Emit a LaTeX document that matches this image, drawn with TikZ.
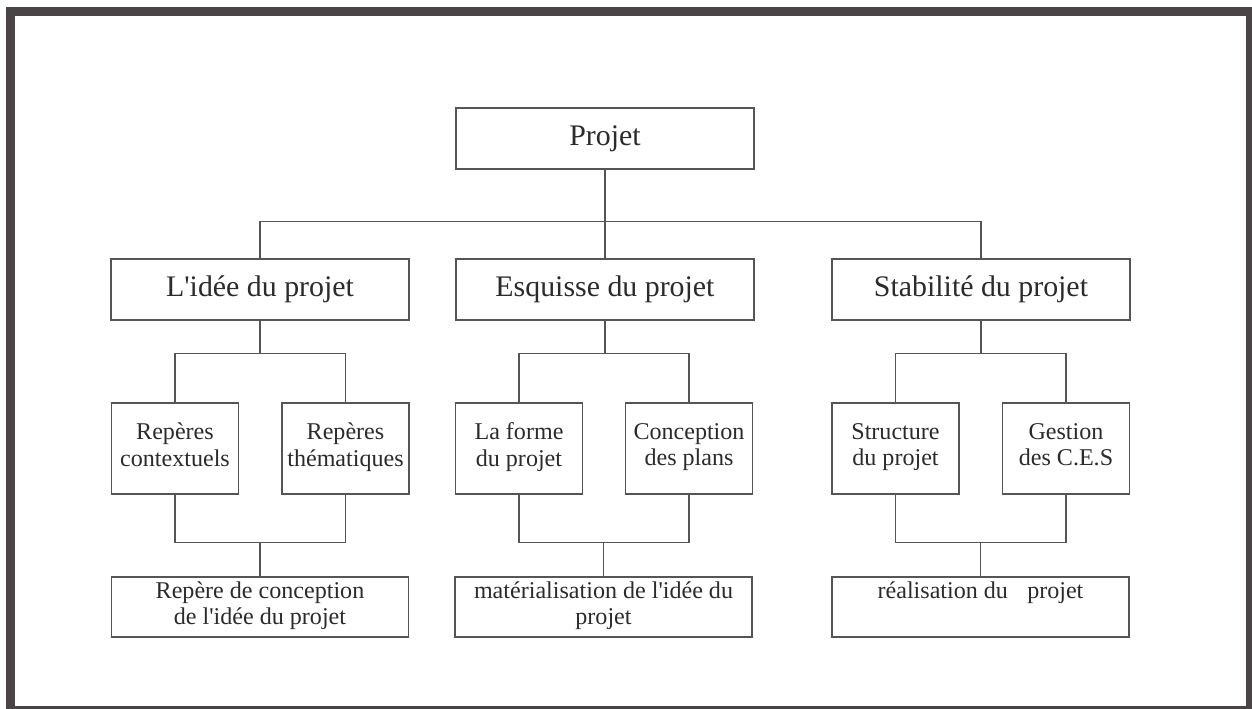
\documentclass[tikz,border=0pt]{standalone}
\usepackage{fontspec}
\setmainfont{Liberation Serif}
\usetikzlibrary{positioning}

\definecolor{framegray}{HTML}{4A4446}
\definecolor{linegray}{HTML}{555555}
\definecolor{textgray}{HTML}{2B2B2B}

\tikzset{
    box/.style={draw=linegray, line width=0.03cm, text=textgray, align=center, inner sep=0pt, execute at end node=\strut},
    bigbox/.style={box, minimum width=5.96cm, minimum height=1.22cm, font=\fontsize{17}{20}\selectfont},
    smallbox/.style={box, minimum width=2.54cm, minimum height=1.82cm, font=\fontsize{13.7}{15.1}\selectfont},
    basebox/.style={box, minimum width=5.94cm, minimum height=1.2cm, font=\fontsize{13.7}{15.1}\selectfont},
    link/.style={draw=linegray, line width=0.03cm},
}

\begin{document}
\begin{tikzpicture}[x=0.02cm, y=-0.02cm]
    \useasboundingbox (0,0) rectangle (1252,709);
    \clip (0,0) rectangle (1252,709);
    \draw[framegray, line width=0.18cm] (10.5,11.5) rectangle (1250.5,710.5);
    % top levels
    \node[bigbox] (projet) at (605,138.5) {Projet};
    \node[bigbox] (idee) at (260,289.5) {L\textquotesingle idée du projet};
    \node[bigbox] (esquisse) at (605,289.5) {Esquisse du projet};
    \node[bigbox] (stabilite) at (981,289.5) {Stabilité du projet};
    \draw[link] (projet) -- (esquisse);
    \draw[link] (idee.north) -- ++(0,-37) -| (stabilite.north);
    % third level
    \node[smallbox] (ctx) at (175,448.5) {Repères\\contextuels};
    \node[smallbox] (them) at (345.5,448.5) {Repères\\thématiques};
    \node[smallbox] (forme) at (519,448.5) {La forme\\du projet};
    \node[smallbox] (plans) at (689,448.5) {Conception\\des plans};
    \node[smallbox] (structure) at (895.5,448.5) {Structure\\du projet};
    \node[smallbox] (ces) at (1066,448.5) {Gestion\\des C.E.S};
    % bottom level
    \node[basebox] (repere) at (260,607) {Repère de conception\\de l\textquotesingle idée du projet};
    \node[basebox] (materialisation) at (603.5,607) {matérialisation de l\textquotesingle idée du\\projet};
    \node[basebox] (realisation) at (980.5,607) {réalisation du\hspace{0.8em}projet\\\mbox{}};
    % links of each group
    \draw[link] (ctx.north) -- ++(0,-49) coordinate (ideeup) -| (them.north);
    \draw[link] (idee.south) -- (idee.south |- ideeup);
    \draw[link] (ctx.south) -- ++(0,48) coordinate (ideedown) -| (them.south);
    \draw[link] (repere.north) -- (repere.north |- ideedown);
    \draw[link] (forme.north) -- ++(0,-49) coordinate (esqup) -| (plans.north);
    \draw[link] (esquisse.south) -- (esquisse.south |- esqup);
    \draw[link] (forme.south) -- ++(0,48) coordinate (esqdown) -| (plans.south);
    \draw[link] (materialisation.north) -- (materialisation.north |- esqdown);
    \draw[link] (structure.north) -- ++(0,-49) coordinate (stabup) -| (ces.north);
    \draw[link] (stabilite.south) -- (stabilite.south |- stabup);
    \draw[link] (structure.south) -- ++(0,48) coordinate (stabdown) -| (ces.south);
    \draw[link] (realisation.north) -- (realisation.north |- stabdown);
\end{tikzpicture}
\end{document}
